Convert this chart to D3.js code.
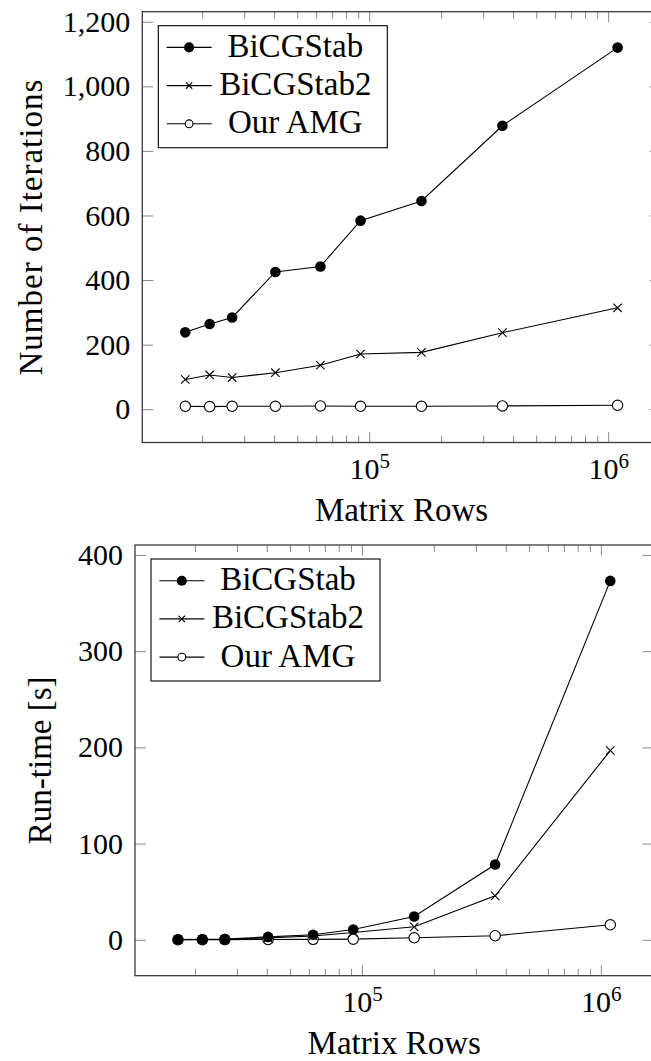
<!DOCTYPE html>
<html>
<head>
<meta charset="utf-8">
<script src="https://cdn.jsdelivr.net/npm/d3@7"></script>
<style>
  body { margin: 0; background: #fff; }
  svg { display: block; }
</style>
</head>
<body>
<div id="chart"></div>
<script>
const matrixRows = [17000, 21500, 26700, 40500, 62500, 92000, 165500, 361000, 1095000];
const seriesNames = ['BiCGStab', 'BiCGStab2', 'Our AMG'];
const itersBiCGStab = [238, 264, 284, 425, 442, 584, 645, 878, 1120];
const itersBiCGStab2 = [92, 106, 98, 113, 136, 171, 176, 237, 314];
const itersAMG = [9, 8, 9, 9, 10, 9, 9, 10, 12];
const timeBiCGStab = [0.3, 0.5, 0.7, 3, 5.2, 10.7, 24.2, 78.2, 373];
const timeBiCGStab2 = [0.2, 0.3, 0.4, 2, 4, 7.6, 13.5, 45.7, 196.7];
const timeAMG = [0.1, 0.1, 0.2, 0.3, 0.5, 0.7, 2.1, 4.2, 15.6];
const iterTicks = [0, 200, 400, 600, 800, 1000, 1200];
const timeTicks = [0, 100, 200, 300, 400];
const rowTicks = [1e5, 1e6];

const W = 651, H = 1061;
const FONT = '"Liberation Serif"';
const markers = ['dot', 'cross', 'circle'];

const svg = d3.select('#chart').append('svg')
  .attr('width', W)
  .attr('height', H)
  .style('font-family', FONT);

function drawMarker(g, type, cx, cy, s) {
  if (type === 'dot') {
    g.append('circle').attr('cx', cx).attr('cy', cy).attr('r', 5.3 * s).attr('fill', '#000');
  } else if (type === 'circle') {
    g.append('circle').attr('cx', cx).attr('cy', cy).attr('r', 5.2 * s)
      .attr('fill', '#fff').attr('stroke', '#000').attr('stroke-width', 1.1);
  } else {
    const h = 4.2 * s;
    g.append('path')
      .attr('d', `M${cx - h},${cy - h}L${cx + h},${cy + h}M${cx - h},${cy + h}L${cx + h},${cy - h}`)
      .attr('stroke', '#000').attr('stroke-width', 1.1).attr('fill', 'none');
  }
}

function drawPanel(p) {
  const x = d3.scaleLog()
    .domain([Math.pow(10, 4.0506), Math.pow(10, 6.2198)])
    .range([p.left, p.right]);
  const y = d3.scaleLinear().domain(p.yDomain).range([p.bottom, p.top]);
  const g = svg.append('g');

  const minor = x.ticks().filter(v => Math.abs(Math.log10(v) - Math.round(Math.log10(v))) > 1e-9);

  // inward ticks on all four sides
  function ticks(axis, tx, ty) {
    g.append('g')
      .attr('transform', `translate(${tx},${ty})`)
      .call(axis)
      .call(s => s.select('.domain').remove())
      .call(s => s.selectAll('line').attr('stroke', '#8a8a8a').attr('stroke-width', 1));
  }
  ticks(d3.axisLeft(y).tickValues(p.yTicks).tickSize(-11).tickFormat(''), p.left, 0);
  ticks(d3.axisRight(y).tickValues(p.yTicks).tickSize(-11).tickFormat(''), p.right, 0);
  ticks(d3.axisBottom(x).tickValues(rowTicks).tickSize(-10.5).tickFormat(''), 0, p.bottom);
  ticks(d3.axisBottom(x).tickValues(minor).tickSize(-7).tickFormat(''), 0, p.bottom);
  ticks(d3.axisTop(x).tickValues(rowTicks).tickSize(-10.5).tickFormat(''), 0, p.top);
  ticks(d3.axisTop(x).tickValues(minor).tickSize(-7).tickFormat(''), 0, p.top);

  // tick labels
  g.append('g')
    .attr('transform', `translate(${p.left},0)`)
    .call(d3.axisLeft(y).tickValues(p.yTicks).tickSize(0).tickPadding(12).tickFormat(p.yFormat))
    .call(s => s.select('.domain').remove())
    .attr('font-size', 30)
    .style('font-family', FONT)
    .selectAll('text').attr('fill', '#000');

  const xl = g.append('g')
    .attr('transform', `translate(0,${p.bottom})`)
    .call(d3.axisBottom(x).tickValues(rowTicks).tickSize(0).tickPadding(14.7))
    .call(s => s.select('.domain').remove())
    .attr('font-size', 30)
    .style('font-family', FONT);
  xl.selectAll('text').each(function (d) {
    const t = d3.select(this).text('').attr('fill', '#000');
    t.append('tspan').text('10');
    t.append('tspan').attr('font-size', 21).attr('dy', -11).text(Math.round(Math.log10(d)));
  });

  // frame
  g.append('rect')
    .attr('x', p.left).attr('y', p.top)
    .attr('width', p.right - p.left).attr('height', p.bottom - p.top)
    .attr('fill', 'none').attr('stroke', '#3a3a3a').attr('stroke-width', 1.3);

  // series (drawn last to first so filled dots stay on top)
  const line = d3.line().x(d => x(d[0])).y(d => y(d[1]));
  for (let k = p.series.length - 1; k >= 0; k--) {
    const pts = matrixRows.map((r, i) => [r, p.series[k][i]]);
    g.append('path').datum(pts)
      .attr('d', line)
      .attr('fill', 'none').attr('stroke', '#000').attr('stroke-width', 1.1);
    const mg = g.append('g');
    pts.forEach(d => drawMarker(mg, markers[k], x(d[0]), y(d[1]), 1));
  }

  // legend
  const lx = p.left + 16, ly = p.top + 14;
  const lg = g.append('g');
  lg.append('rect')
    .attr('x', lx).attr('y', ly).attr('width', 229).attr('height', 122)
    .attr('fill', '#fff').attr('stroke', '#000').attr('stroke-width', 1.1);
  seriesNames.forEach((name, k) => {
    const ry = ly + 21.7 + k * 38.2;
    lg.append('line')
      .attr('x1', lx + 8.4).attr('x2', lx + 53.4).attr('y1', ry).attr('y2', ry)
      .attr('stroke', '#000').attr('stroke-width', 1.1);
    drawMarker(lg, markers[k], lx + 30.8, ry, k === 0 ? 0.95 : 0.75);
    lg.append('text')
      .attr('x', lx + 137).attr('y', ry + 9.5)
      .attr('text-anchor', 'middle')
      .attr('font-size', 33)
      .style('font-family', FONT)
      .text(name);
  });

  // axis labels
  g.append('text')
    .attr('x', (p.left + p.right) / 2).attr('y', p.bottom + 78)
    .attr('text-anchor', 'middle').attr('font-size', 33)
    .style('font-family', FONT)
    .text('Matrix Rows');
  g.append('text')
    .attr('transform', `translate(${p.ylabelX},${(p.top + p.bottom) / 2}) rotate(-90)`)
    .attr('text-anchor', 'middle').attr('font-size', 33)
    .style('font-family', FONT)
    .style('letter-spacing', p.ylabelSpacing + 'px')
    .text(p.ylabel);
}

drawPanel({
  left: 142.3, right: 660.7, top: 11.7, bottom: 442.5,
  yDomain: [-103.2, 1231.2],
  yTicks: iterTicks,
  yFormat: d3.format(','),
  series: [itersBiCGStab, itersBiCGStab2, itersAMG],
  ylabel: 'Number of Iterations',
  ylabelX: 41.5,
  ylabelSpacing: 1
});

drawPanel({
  left: 135, right: 653.4, top: 545, bottom: 975.7,
  yDomain: [-37.3, 410.3],
  yTicks: timeTicks,
  yFormat: d3.format('d'),
  series: [timeBiCGStab, timeBiCGStab2, timeAMG],
  ylabel: 'Run-time [s]',
  ylabelX: 50.6,
  ylabelSpacing: 0
});
</script>
</body>
</html>
